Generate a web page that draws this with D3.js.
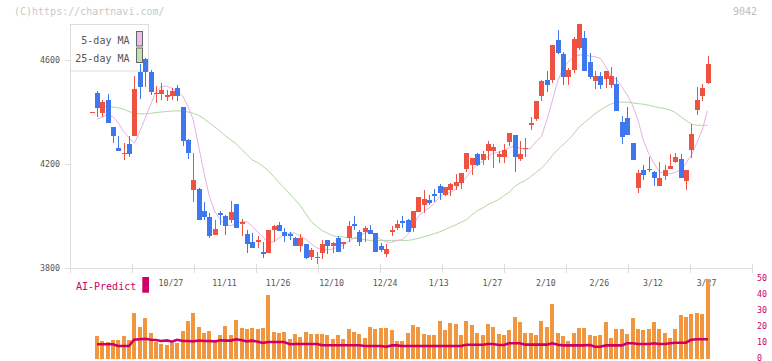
<!DOCTYPE html>
<html>
<head>
<meta charset="utf-8">
<script src="https://cdn.jsdelivr.net/npm/d3@7"></script>
<style>
  html, body { margin: 0; padding: 0; background: #fff; }
  svg { display: block; font-family: "DejaVu Sans Mono", monospace; }
</style>
</head>
<body>
<svg id="chart" width="772" height="361"></svg>
<script>
// candle data, one entry per trading day (oldest first)
const opens = [
  4398, 4471, 4397, 4445, 4342, 4261, 4236, 4277, 4307, 4553,
  4603, 4553, 4470, 4470, 4458, 4461, 4491, 4419, 4292, 4100,
  4104, 4020, 3997, 3928, 4010, 4001, 3983, 4047, 3970, 3932,
  3901, 3898, 3863, 3858, 3947, 3966, 3939, 3929, 3914, 3883,
  3891, 3844, 3837, 3858, 3906, 3886, 3916, 3891, 3916, 3970,
  3939, 3937, 3947, 3934, 3886, 3852, 3939, 3952, 3980, 3983,
  3955, 4016, 4042, 4062, 4086, 4116, 4082, 4098, 4116, 4126,
  4182, 4197, 4236, 4213, 4251, 4251, 4226, 4226, 4282, 4310,
  4218, 4259, 4351, 4374, 4461, 4522, 4522, 4676, 4622, 4532,
  4560, 4645, 4683, 4591, 4519, 4537, 4525, 4502, 4507, 4361,
  4376, 4279, 4108, 4177, 4182, 4169, 4113, 4154, 4182, 4208,
  4218, 4136, 4254, 4407, 4461, 4509
];
const highs = [
  4400, 4480, 4445, 4468, 4342, 4307, 4279, 4307, 4537, 4582,
  4605, 4560, 4499, 4512, 4484, 4490, 4502, 4420, 4295, 4241,
  4108, 4055, 4013, 3985, 4020, 4003, 4057, 4047, 3989, 3947,
  3934, 3924, 3901, 3947, 3967, 3978, 3952, 3937, 3918, 3932,
  3891, 3875, 3863, 3906, 3908, 3898, 3924, 3901, 3980, 4001,
  3947, 3962, 3965, 3934, 3896, 3893, 3962, 3985, 4001, 3988,
  4019, 4072, 4100, 4080, 4103, 4123, 4111, 4126, 4162, 4164,
  4241, 4223, 4241, 4251, 4287, 4277, 4249, 4277, 4318, 4310,
  4287, 4300, 4381, 4440, 4522, 4558, 4657, 4714, 4630, 4568,
  4688, 4737, 4709, 4624, 4558, 4553, 4555, 4571, 4532, 4384,
  4417, 4279, 4177, 4195, 4228, 4174, 4208, 4195, 4238, 4243,
  4238, 4177, 4353, 4496, 4507, 4614
];
const lows = [
  4398, 4381, 4379, 4358, 4279, 4251, 4216, 4228, 4307, 4450,
  4496, 4465, 4435, 4444, 4442, 4445, 4440, 4269, 4220, 4055,
  3985, 3985, 3917, 3928, 3967, 3925, 3973, 3952, 3921, 3858,
  3875, 3875, 3837, 3858, 3901, 3942, 3898, 3906, 3883, 3863,
  3835, 3829, 3814, 3835, 3855, 3858, 3860, 3873, 3898, 3947,
  3883, 3901, 3932, 3860, 3860, 3844, 3921, 3947, 3952, 3939,
  3939, 4016, 4011, 4042, 4054, 4062, 4075, 4075, 4100, 4103,
  4167, 4159, 4192, 4197, 4215, 4185, 4205, 4203, 4269, 4170,
  4210, 4228, 4330, 4366, 4443, 4476, 4509, 4622, 4502, 4502,
  4548, 4637, 4558, 4527, 4486, 4486, 4491, 4491, 4402, 4277,
  4312, 4213, 4088, 4139, 4169, 4116, 4113, 4139, 4180, 4205,
  4146, 4100, 4223, 4389, 4443, 4507
];
const closes = [
  4400, 4416, 4438, 4358, 4305, 4251, 4242, 4236, 4488, 4496,
  4552, 4477, 4473, 4485, 4465, 4481, 4461, 4289, 4243, 4139,
  3985, 3994, 3924, 3951, 4005, 3960, 4015, 3952, 3975, 3893,
  3875, 3909, 3852, 3947, 3962, 3944, 3924, 3921, 3883, 3916,
  3840, 3870, 3844, 3893, 3883, 3896, 3860, 3901, 3962, 3960,
  3898, 3952, 3932, 3860, 3870, 3873, 3947, 3970, 3973, 3939,
  4019, 4072, 4065, 4049, 4077, 4088, 4111, 4121, 4131, 4164,
  4241, 4223, 4197, 4236, 4277, 4264, 4236, 4254, 4318, 4226,
  4238, 4261, 4356, 4440, 4517, 4504, 4657, 4625, 4532, 4560,
  4680, 4737, 4558, 4535, 4537, 4502, 4555, 4537, 4402, 4302,
  4312, 4213, 4164, 4159, 4177, 4146, 4146, 4177, 4192, 4228,
  4146, 4177, 4315, 4445, 4491, 4583
];
const ma5 = [
  null, 4371, 4381, 4388, 4381, 4356, 4324, 4299, 4279, 4324,
  4375, 4426, 4477, 4496, 4499, 4490, 4477, 4461, 4420, 4369,
  4266, 4164, 4075, 4017, 3985, 3966, 3963, 3970, 3978, 3978,
  3960, 3939, 3919, 3898, 3901, 3915, 3929, 3934, 3934, 3921,
  3911, 3893, 3878, 3870, 3870, 3873, 3881, 3888, 3902, 3915,
  3924, 3934, 3939, 3927, 3909, 3901, 3898, 3906, 3909, 3928,
  3960, 3998, 4017, 4030, 4049, 4075, 4085, 4090, 4103, 4126,
  4149, 4177, 4196, 4209, 4228, 4241, 4243, 4251, 4262, 4269,
  4260, 4256, 4260, 4286, 4305, 4369, 4440, 4516, 4567, 4592,
  4609, 4618, 4618, 4614, 4611, 4605, 4573, 4535, 4525, 4496,
  4465, 4426, 4369, 4292, 4241, 4203, 4170, 4162, 4162, 4167,
  4177, 4203, 4234, 4279, 4330, 4404
];
const ma25 = [
  null, null, 4422, 4420, 4418, 4415, 4410, 4401, 4394, 4392,
  4392, 4394, 4397, 4399, 4401, 4403, 4403, 4403, 4399, 4394,
  4386, 4373, 4357, 4342, 4325, 4307, 4292, 4277, 4256, 4236,
  4215, 4205, 4190, 4174, 4151, 4128, 4107, 4085, 4062, 4039,
  4008, 3979, 3960, 3944, 3934, 3924, 3921, 3919, 3916, 3914,
  3912, 3909, 3906, 3906, 3906, 3906, 3906, 3906, 3906, 3906,
  3909, 3914, 3920, 3925, 3932, 3939, 3948, 3957, 3966, 3976,
  3985, 4004, 4020, 4030, 4043, 4053, 4063, 4078, 4091, 4113,
  4126, 4136, 4151, 4167, 4183, 4205, 4232, 4254, 4273, 4292,
  4314, 4341, 4358, 4375, 4392, 4407, 4420, 4430, 4437, 4437,
  4437, 4434, 4431, 4429, 4425, 4420, 4416, 4412, 4407, 4397,
  4381, 4366, 4353, 4348, 4348, 4348
];
// lower panel: bars and the AI-Predict line (same right-hand scale)
const volume = [
  null, 14.4, 11.5, 10.8, 11.7, 11.9, 14.4, 11.9, 29, 20.2,
  25.6, 16.5, 10.8, 9.4, 8.75, 10.2, 10.2, 17.7, 23.75, 29,
  20.2, 16.5, 17.7, 11.9, 15.2, 20.6, 15, 24.4, 19.4, 19,
  19.4, 19, 19.4, 40.2, 17.1, 16.5, 17.1, 12.5, 15.8, 13.75,
  17.1, 15.8, 15.6, 15.6, 15, 12.7, 15, 12.5, 18.75, 16.7,
  15.8, 13.3, 20, 19, 19.6, 19.4, 18.1, 11.5, 11.5, 16.5,
  21.25, 20.2, 15.6, 15, 15, 23.75, 18.1, 22.7, 21.9, 15,
  23.75, 21.25, 16.5, 15, 21.9, 20.2, 15.6, 15, 18.1, 26.5,
  23.3, 16.5, 16.5, 15, 23.75, 20.2, 34.4, 16.5, 14.4, 11.5,
  16.5, 19.4, 19.4, 15, 14.4, 15, 23.3, 13.1, 18.75, 18.75,
  15.6, 25.6, 18.75, 18.1, 18.75, 23.3, 18.75, 16.5, 13.1, 18.75,
  27.5, 26.5, 28.3, 28.9, 28.3, 50
];
const aiPredict = [
  null, 9.2, 9.2, 9.2, 9.2, 8.1, 8.1, 8.1, 12, 12.3,
  12.6, 12.0, 11.9, 11.25, 11.6, 10.8, 12.0, 11.25, 11.25, 11.0,
  11.6, 11.25, 11.25, 11.0, 11.7, 11.5, 11.5, 12.3, 11.7, 11.0,
  11.5, 10.8, 10.0, 10.6, 10.6, 10.6, 10.6, 9.2, 9.4, 9.4,
  9.4, 9.4, 9.4, 8.6, 8.6, 8.6, 8.6, 8.6, 8.6, 8.6,
  8.6, 8.1, 8.1, 8.1, 8.1, 7.7, 8.5, 8.5, 8.1, 8.1,
  8.1, 8.1, 8.1, 8.1, 8.1, 8.1, 8.1, 8.1, 8.1, 8.1,
  8.9, 8.9, 8.9, 8.9, 9.4, 9.4, 8.75, 8.75, 9.8, 9.8,
  9.8, 8.96, 8.96, 8.96, 8.96, 8.96, 9.8, 8.96, 8.5, 8.5,
  8.5, 8.5, 8.5, 8.75, 7.7, 7.7, 8.5, 8.5, 8.5, 8.5,
  9.8, 9.8, 9.4, 9.4, 9.4, 9.8, 9.4, 9.4, 9.8, 10.2,
  10.2, 10.2, 12.0, 12.3, 12.3, 12.3
];
const dateLabels = ["10/27", "11/11", "11/26", "12/10", "12/24", "1/13", "1/27", "2/10", "2/26", "3/12", "3/27"];
const dateIndex = [15, 25, 35, 45, 55, 65, 75, 85, 95, 105, 115];
const priceTicks = [3800, 4200, 4600];
const volTicks = [0, 10, 20, 30, 40, 50];

const UP = "#ef5240", DOWN = "#3f78ee";
const AI = "#cc0066";

const svg = d3.select("#chart");
const plot = { left: 70, right: 752, top: 24, bottom: 268 };

const x = d3.scaleLinear().domain([0, opens.length - 1]).range([91.6, 707.5]);
const y = d3.scaleLinear().domain([3800, 4737]).range([plot.bottom, plot.top]);
const yv = d3.scaleLinear().domain([0, 50]).range([359, 279]);
const grid = d3.scaleLinear().domain([0, 11]).range([plot.left, plot.right]);
const cx = (i) => Math.round(x(i));

// watermark + code
svg.append("text").attr("x", 14).attr("y", 15)
  .attr("font-size", 10).attr("fill", "#c8c8c8")
  .text("(C)https://chartnavi.com/");
svg.append("text").attr("x", 757).attr("y", 15).attr("text-anchor", "end")
  .attr("font-size", 10).attr("fill", "#bdbdbd")
  .text("9042");

// axes
const axisG = svg.append("g").attr("stroke", "#dddddd").attr("shape-rendering", "crispEdges");
axisG.append("line").attr("x1", plot.left + 0.5).attr("x2", plot.left + 0.5)
  .attr("y1", plot.top).attr("y2", plot.bottom);
axisG.append("line").attr("x1", plot.left).attr("x2", plot.right)
  .attr("y1", plot.bottom + 0.5).attr("y2", plot.bottom + 0.5);
axisG.selectAll("line.gt").data(d3.range(12)).enter().append("line")
  .attr("class", "gt")
  .attr("x1", (d) => Math.round(grid(d)) + 0.5).attr("x2", (d) => Math.round(grid(d)) + 0.5)
  .attr("y1", plot.bottom - 4).attr("y2", plot.bottom + 5);
axisG.selectAll("line.yt").data(priceTicks).enter().append("line")
  .attr("class", "yt")
  .attr("x1", plot.left - 5).attr("x2", plot.left)
  .attr("y1", (d) => Math.round(y(d)) + 0.5).attr("y2", (d) => Math.round(y(d)) + 0.5);

svg.selectAll("text.yl").data(priceTicks).enter().append("text")
  .attr("class", "yl")
  .attr("x", 60).attr("y", (d) => y(d) + 3)
  .attr("text-anchor", "end").attr("font-size", 8.3).attr("fill", "#555")
  .text((d) => d);

svg.selectAll("text.xl").data(dateLabels).enter().append("text")
  .attr("class", "xl")
  .attr("x", (d, i) => x(dateIndex[i]) - 1).attr("y", 285.5)
  .attr("text-anchor", "middle").attr("font-size", 8.2).attr("fill", "#555")
  .text((d) => d);

// legend
const lg = svg.append("g");
lg.append("rect").attr("x", 70.5).attr("y", 24.5).attr("width", 78).attr("height", 46.5)
  .attr("fill", "#fff").attr("stroke", "#dddddd");
const legendItems = [
  { label: "5-day MA", fill: "#ecbeec", y: 44 },
  { label: "25-day MA", fill: "#c2e2b4", y: 61.5 }
];
legendItems.forEach((it, i) => {
  lg.append("text").attr("x", 129.5).attr("y", it.y).attr("text-anchor", "end")
    .attr("font-size", 10).attr("fill", "#555").text(it.label);
  lg.append("rect").attr("x", 136.5).attr("y", 31.5 + i * 16.5).attr("width", 6).attr("height", 14.5)
    .attr("fill", it.fill).attr("stroke", "#666");
});

// moving averages
const maLine = (arr) => d3.line()
  .defined((d) => d != null)
  .x((d, i) => x(i))
  .y((d) => y(d))(arr);
svg.append("path").attr("d", maLine(ma25)).attr("fill", "none")
  .attr("stroke", "#b0d8a0").attr("stroke-width", 1);
svg.append("path").attr("d", maLine(ma5)).attr("fill", "none")
  .attr("stroke", "#e6b0e6").attr("stroke-width", 1);

// candles
const candles = opens.map((o, i) => ({ i, o, h: highs[i], l: lows[i], c: closes[i] }));
const cg = svg.append("g").attr("shape-rendering", "crispEdges");
cg.selectAll("line.wick").data(candles).enter().append("line")
  .attr("class", "wick")
  .attr("x1", (d) => cx(d.i) + 0.5).attr("x2", (d) => cx(d.i) + 0.5)
  .attr("y1", (d) => y(d.h)).attr("y2", (d) => y(d.l))
  .attr("stroke", (d) => (d.c >= d.o ? UP : DOWN));
cg.selectAll("rect.body").data(candles).enter().append("rect")
  .attr("class", "body")
  .attr("x", (d) => cx(d.i) - 2)
  .attr("width", 5)
  .attr("y", (d) => y(Math.max(d.o, d.c)))
  .attr("height", (d) => Math.max(1, Math.abs(y(d.o) - y(d.c))))
  .attr("fill", (d) => (d.c >= d.o ? UP : DOWN));

// lower panel
svg.append("text").attr("x", 76).attr("y", 290).attr("font-size", 10).attr("fill", AI)
  .text("AI-Predict");
svg.append("rect").attr("x", 142.3).attr("y", 277).attr("width", 6.7).attr("height", 15.7)
  .attr("fill", AI);

svg.selectAll("text.vl").data(volTicks).enter().append("text")
  .attr("class", "vl")
  .attr("x", 757).attr("y", (d) => yv(d) + 1.5)
  .attr("font-size", 8.3).attr("fill", AI)
  .text((d) => d);

const vols = volume.map((v, i) => ({ i, v })).filter((d) => d.v != null);
svg.append("g").attr("shape-rendering", "crispEdges")
  .selectAll("rect").data(vols).enter().append("rect")
  .attr("x", (d) => cx(d.i) - 2)
  .attr("width", 4)
  .attr("y", (d) => yv(d.v))
  .attr("height", (d) => yv(0) - yv(d.v))
  .attr("fill", "#f0963e");

svg.append("path")
  .attr("d", d3.line().defined((d) => d != null)
    .x((d, i) => cx(i)).y((d) => yv(d))(aiPredict))
  .attr("fill", "none").attr("stroke", AI).attr("stroke-width", 2.6);
</script>
</body>
</html>
